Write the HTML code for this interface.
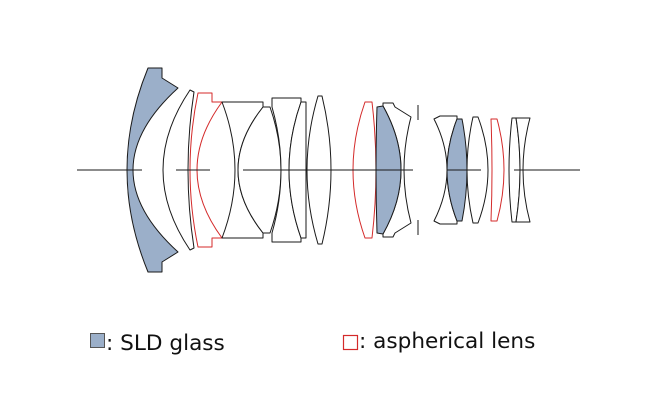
<!DOCTYPE html>
<html><head><style>
html,body{margin:0;padding:0;background:#fff;width:650px;height:409px;overflow:hidden}
svg{display:block}
</style></head><body>
<svg width="650" height="409" viewBox="0 0 650 409" xmlns="http://www.w3.org/2000/svg">
<g fill="#fff" stroke="#1a1a1a" stroke-width="1" stroke-linejoin="round">
<path d="M148,68 L162,68 L162,78 L178,88 Q88,170 178,252 L162,262 L162,272 L148,272 Q106,170 148,68 Z" fill="#9bafc9"/>
<path d="M190,90 L194,92 Q182,170 194,248 L190,250 Q136,170 190,90 Z"/>
<path d="M198,93 L212,93 L212,102 L222,102 Q172,170 222,238 L212,238 L212,247 L198,247 Q182,170 198,93 Z" stroke="#d42a2a"/>
<path d="M222,102 L263,102 L263,107 Q213,170 263,233 L263,238 L222,238 Q248,170 222,102 Z"/>
<path d="M263,107 L270,107 Q292,170 270,233 L263,233 Q213,170 263,107 Z"/>
<path d="M272,98 L301,98 L301,102 Q277,170 301,238 L301,242 L272,242 L272,233 Q290,170 272,107 Z"/>
<path d="M301,102 L306,102 L306,238 L301,238 Q277,170 301,102 Z"/>
<path d="M318,96 L322,96 Q340,170 322,244 L318,244 Q296,170 318,96 Z"/>
<path d="M365,102 L372,102 Q380,170 372,238 L365,238 Q341,170 365,102 Z" stroke="#d42a2a"/>
<path d="M383,106 L383,103 L393,103 L395,107 L411,117 Q397,170 411,223 L395,233 L393,237 L383,237 L383,234 Q419,170 383,106 Z"/>
<path d="M377,107 L383,106 Q419,170 383,234 L377,233 Q375,170 377,107 Z" fill="#9bafc9"/>
<path d="M434,119 L440,116 L457,116 L457,119 Q437,170 457,221 L457,224 L440,224 L434,221 Q460,170 434,119 Z"/>
<path d="M457,119 L462,119 Q472,170 462,221 L457,221 Q437,170 457,119 Z" fill="#9bafc9"/>
<path d="M473,117 L478,117 Q498,170 478,223 L473,223 Q461,170 473,117 Z"/>
<path d="M491,119 L497,119 Q511,170 497,221 L491,221 Q493,170 491,119 Z" stroke="#d42a2a"/>
<path d="M512,118 L516,118 Q524,170 516,222 L512,222 Q506,170 512,118 Z"/>
<path d="M516,118 L530,118 Q516,170 530,222 L516,222 Q524,170 516,118 Z"/>
</g>
<g stroke="#1a1a1a" stroke-width="1">
<line x1="77" y1="170" x2="142" y2="170"/>
<line x1="176" y1="170" x2="210" y2="170"/>
<line x1="243" y1="170" x2="413" y2="170"/>
<line x1="447" y1="170" x2="481" y2="170"/>
<line x1="514" y1="170" x2="580" y2="170"/>
<line x1="418" y1="105" x2="418" y2="120"/>
<line x1="418" y1="220" x2="418" y2="235"/>
</g>
<rect x="90.5" y="333.5" width="14" height="14" fill="#9bafc9" stroke="#555"/>
<rect x="343.5" y="335.5" width="14" height="14" fill="#fff" stroke="#d42a2a" stroke-width="1.2"/>
<text x="106" y="350" font-family="DejaVu Sans, sans-serif" font-size="21.6" fill="#111">: SLD glass</text>
<text x="359" y="348" font-family="DejaVu Sans, sans-serif" font-size="21.6" fill="#111">: aspherical lens</text>
</svg>
</body></html>
